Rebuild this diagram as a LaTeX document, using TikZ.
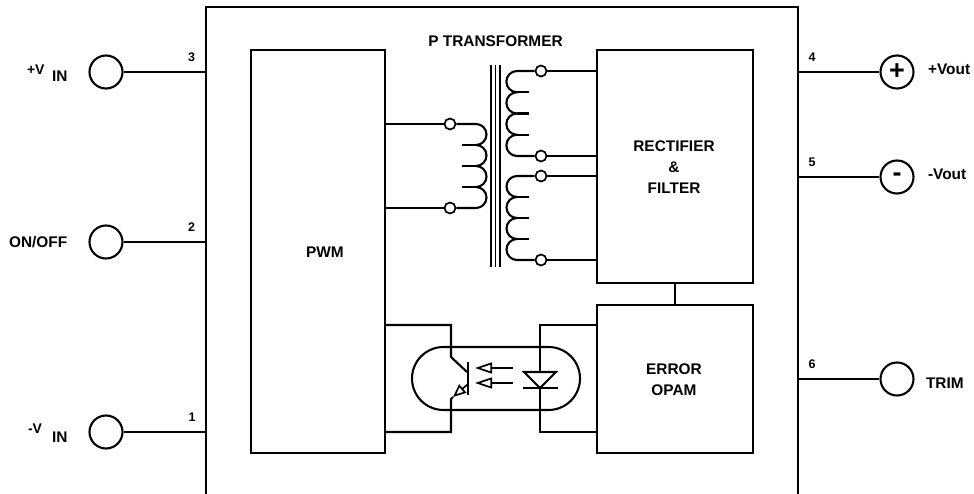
\documentclass[tikz,border=0pt]{standalone}
\usepackage{fontspec}
\setmainfont{Liberation Sans}
\usetikzlibrary{arrows.meta}
\begin{document}
\begin{tikzpicture}[x=1pt,y=1pt,line width=2.1pt,
  lab/.style={font=\fontsize{15.4}{21}\selectfont\bfseries, inner sep=0pt},
  sublab/.style={font=\fontsize{14}{15}\selectfont\bfseries, inner sep=0pt, anchor=base west},
  num/.style={font=\fontsize{12.5}{14}\selectfont\bfseries, inner sep=0pt},
  term/.style={circle,draw,minimum size=33pt,inner sep=0pt},
  sign/.style={font=\fontsize{27}{27}\selectfont\bfseries},
  tap/.style={circle,draw,minimum size=11pt,inner sep=0pt,line width=1.7pt},
  blk/.style={draw,rectangle,inner sep=0pt},
  fine/.style={line width=1.7pt}]
\useasboundingbox (0,0) rectangle (974,493);
% outer module outline
\draw (206,-5) -- (206,486) -- (798,486) -- (798,-5);
% left terminals
\node[term] (tp3) at (106,421) {};
\node[term] (tp2) at (106,251) {};
\node[term] (tp1) at (106,61) {};
\coordinate (c3) at (206,421);
\coordinate (c2) at (206,251);
\coordinate (c1) at (206,61);
\draw (tp3) -- (c3);
\draw (tp2) -- (c2);
\draw (tp1) -- (c1);
\node[num] at (191.5,436) {3};
\node[num] at (191.5,266) {2};
\node[num] at (192,76) {1};
\node[sublab] at (26,418) {+V};
\node[lab,anchor=base west] at (51,411) {IN};
\node[lab,anchor=west] at (8,251) {ON/OFF};
\node[sublab] at (27,60) {-V};
\node[lab,anchor=base west] at (51,51) {IN};
% right terminals
\node[term,sign] (tp4) at (897,421) {+};
\node[term,sign] (tp5) at (897,316) {-};
\node[term] (tp6) at (897,114) {};
\coordinate (c4) at (798,421);
\coordinate (c5) at (798,316);
\coordinate (c6) at (798,114);
\draw (c4) -- (tp4);
\draw (c5) -- (tp5);
\draw (c6) -- (tp6);
\node[num] at (812,435.5) {4};
\node[num] at (812,331) {5};
\node[num] at (812,129) {6};
\node[lab,anchor=west] at (927,424) {+Vout};
\node[lab,anchor=west] at (927,319) {-Vout};
\node[lab,anchor=west] at (925,109.5) {TRIM};
% blocks
\node[blk,minimum width=134pt,minimum height=403pt] (pwm) at (318,241.5) {};
\node[lab] at (325,241) {PWM};
\node[blk,minimum width=156pt,minimum height=233pt] (rect) at (675,326.5) {};
\node[lab,align=center] at (674,326) {RECTIFIER\\\&\\FILTER};
\node[blk,minimum width=156pt,minimum height=148pt] (err) at (675,114) {};
\node[lab,align=center] at (674,113.5) {ERROR\\OPAM};
\draw (rect.south) -- (err.north);
% transformer
\node[lab] at (495.5,452) {P TRANSFORMER};
\node[tap] (p1) at (450,369) {};
\node[tap] (p2) at (450,285) {};
\draw (pwm.east |- p1) -- (p1.west);
\draw (pwm.east |- p2) -- (p2.west);
\draw (p1.east) -- (476,369)
  arc[start angle=90,end angle=-90,radius=10.5]
  arc[start angle=90,end angle=-90,radius=10.5]
  arc[start angle=90,end angle=-90,radius=10.5]
  arc[start angle=90,end angle=-90,radius=10.5] -- (p2.east);
\foreach \yy in {348,327,306} \draw (462,\yy) -- (476,\yy);
\foreach \xx in {491,495.5,500} \draw[fine] (\xx,428) -- (\xx,226);
\node[tap] (s1) at (541,422) {};
\node[tap] (s2) at (541,337) {};
\node[tap] (s3) at (541,317) {};
\node[tap] (s4) at (541,233) {};
\draw (s1.west) -- (517,422)
  arc[start angle=90,end angle=270,radius=10.625]
  arc[start angle=90,end angle=270,radius=10.625]
  arc[start angle=90,end angle=270,radius=10.625]
  arc[start angle=90,end angle=270,radius=10.625] -- (s2.west);
\foreach \yy in {400.75,379.5,358.25} \draw (517,\yy) -- (528.5,\yy);
\draw (s3.west) -- (517,317)
  arc[start angle=90,end angle=270,radius=10.5]
  arc[start angle=90,end angle=270,radius=10.5]
  arc[start angle=90,end angle=270,radius=10.5]
  arc[start angle=90,end angle=270,radius=10.5] -- (s4.west);
\foreach \yy in {296,275,254} \draw (517,\yy) -- (528.5,\yy);
\foreach \n in {s1,s2,s3,s4} \draw (\n.east) -- (\n -| rect.west);
% optocoupler
\coordinate (cA) at (451,168);
\draw (pwm.east |- cA) -- (cA) -- (451,136) -- (467,121);
\draw (468,131) -- (468,98);
\draw[fine,-{Triangle[open,length=13pt,width=11pt]}] (468,109) -- (453,96);
\coordinate (eA) at (451,61);
\draw (453,96) -- (451,94) -- (eA) -- (pwm.east |- eA);
\draw (443.5,146) -- (548.5,146) arc[start angle=90,end angle=-90,radius=31.5]
  -- (443.5,83) arc[start angle=270,end angle=90,radius=31.5] -- cycle;
\draw[fine,-{Triangle[open,length=17pt,width=11pt]}] (513,125) -- (475,125);
\draw[fine,-{Triangle[open,length=17pt,width=11pt]}] (513,110) -- (475,110);
\coordinate (lA) at (540,168);
\coordinate (lB) at (540,61);
\draw (err.west |- lA) -- (lA) -- (540,121);
\draw (524,121) -- (556,121) -- (540,105) -- cycle;
\draw (523,105) -- (558,105);
\draw (540,105) -- (lB) -- (err.west |- lB);
\end{tikzpicture}
\end{document}
